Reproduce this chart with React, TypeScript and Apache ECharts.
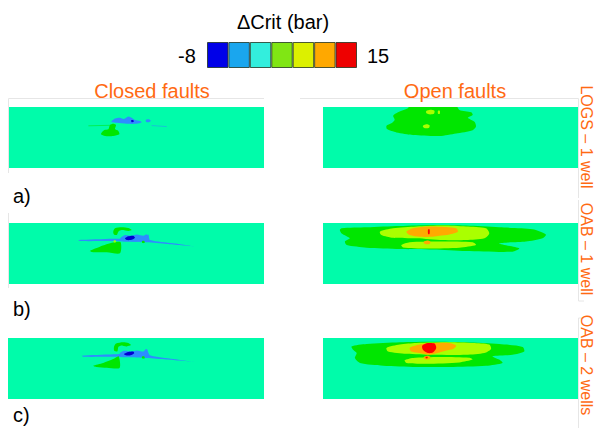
import React, { useEffect, useRef } from "react";
import * as echarts from "echarts";

// ---------- data ----------
const colorbarTitle = "ΔCrit (bar)";
const colorbarMin = -8;
const colorbarMax = 15;
const colorbarBins = ["-8", "-4.7", "-1.4", "1.9", "5.1", "8.4", "11.7"];
const columnTitles = ["Closed faults", "Open faults"];
const rowLabels = ["a)", "b)", "c)"];
const scenarioLabels = ["LOGS – 1 well", "OAB – 1 well", "OAB – 2 wells"];

type Zone = { level: number; pts: number[][]; line?: boolean };
// level: 0 = strong decrease, 1 = decrease, 3 = slight increase, 4 = increase, 5 = large, 6 = largest
const closedLogs: Zone[] = [
  { level: 3, pts: [[36.6, 10.0], [37.5, 9.1], [39.2, 8.8], [39.8, 7.1], [41.1, 6.6], [42.2, 7.1], [41.8, 8.7], [43.1, 9.4], [43.5, 10.7], [41.1, 11.4], [37.9, 11.4], [36.3, 10.7]] },
  { level: 1, pts: [[40.5, 5.5], [41.8, 4.5], [43.75, 4.2], [45.3, 4.7], [47.0, 3.7], [48.3, 4.2], [49.6, 5.1], [51.6, 5.5], [52.2, 6.0], [50.3, 6.6], [46.4, 6.6], [42.5, 6.2], [40.5, 6.0]] },
  { level: 1, pts: [[53.9, 5.0], [55.0, 4.8], [55.8, 5.4], [55.0, 6.0], [53.9, 5.8]] },
  { level: 0, pts: [[48.1, 5.2], [48.9, 5.1], [49.1, 5.8], [48.3, 6.0]] },
  { level: 3, line: true, pts: [[31.4, 7.4], [39.8, 7.2]] },
  { level: 1, line: true, pts: [[56.1, 7.3], [62.0, 7.7]] },
];
const openLogs: Zone[] = [
  { level: 3, pts: [[34, -0.5], [52.2, -0.5], [53.5, 1.2], [58.1, 2.1], [58.7, 3.1], [56.8, 4.2], [59.4, 5.8], [60, 7.7], [58.7, 9.1], [52.2, 10.4], [45.7, 11.4], [35.3, 11], [28.8, 10], [25.1, 8.7], [24.9, 7.4], [26.8, 6.4], [28.1, 5.1], [27.5, 3.4], [29.4, 2.1], [33.3, 0.5]] },
  { level: 4, pts: [[40.5, 1.6], [42, 1.1], [43.7, 1.5], [43.5, 2.7], [41.5, 2.9], [40.5, 2.4]] },
  { level: 4, pts: [[39.2, 7.4], [40.5, 6.8], [41.8, 7.2], [41.6, 8.2], [40.2, 8.4], [39.3, 8.0]] },
  { level: 4, pts: [[45.1, 1.5], [45.8, 1.5], [45.8, 2.7], [45.1, 2.7]] },
];
const closedOab1: Zone[] = [
  { level: 1, pts: [[27.5, 6.7], [41.1, 6.2], [52.9, 5.8], [54.8, 4.5], [55.5, 6.7], [64.6, 8.0], [72.4, 9.2], [62, 8.3], [54.2, 7.6], [46.4, 7.3], [41.1, 7.1], [28.1, 7.1]] },
  { level: 1, pts: [[44, 5.8], [45.7, 4.7], [48.3, 5.0], [50.3, 4.5], [52.9, 5.0], [54.2, 4.5], [54.8, 6.7], [51.6, 7.3], [46.4, 7.3], [43.75, 7.0]] },
  { level: 0, pts: [[45.7, 6.0], [47, 5.2], [48.9, 5.0], [49.6, 5.8], [48.3, 6.6], [46.4, 6.7]] },
  { level: 3, pts: [[41.1, 3.4], [41.8, 2.1], [44.4, 1.7], [47, 2.0], [48.3, 2.8], [47, 3.1], [44.4, 2.8], [43.1, 3.4], [42.5, 4.7], [41.4, 4.5]] },
  { level: 3, pts: [[32, 11.0], [35.9, 9.3], [41.1, 7.7], [44, 7.6], [43.75, 11.9], [38.6, 11.5], [33.3, 11.5]] },
  { level: 3, pts: [[52.3, 7.2], [53.2, 7.0], [53.4, 7.8], [52.5, 7.9]] },
  { level: 4, pts: [[41.3, 6.9], [42.1, 6.9], [42.1, 7.6], [41.3, 7.6]] },
];
const openOab1: Zone[] = [
  { level: 3, pts: [[6.6, 2.8], [7.3, 2.1], [17.1, 1.7], [30.1, 1.2], [43.1, 0.8], [56.1, 1.0], [69.1, 1.7], [82.2, 2.5], [87.4, 4.5], [86.1, 6.0], [79.6, 7.3], [69.1, 8.0], [77, 10], [74.3, 11.3], [56.1, 11], [43.1, 10.4], [30.1, 10.2], [17.1, 9.7], [9.3, 8.7], [8.6, 7.3], [10.5, 6.0], [7.3, 4.1]] },
  { level: 4, pts: [[22.3, 3.4], [27.5, 2.1], [36.6, 1.4], [47, 1.0], [56.1, 1.4], [63.9, 2.1], [65.2, 4.1], [63.3, 6.0], [56.1, 6.7], [47, 6.7], [36.6, 6.0], [27.5, 5.8], [22.9, 4.7]] },
  { level: 4, pts: [[30.7, 8.7], [34, 7.6], [45.7, 7.3], [58.7, 7.6], [60, 8.7], [53.5, 9.7], [40.5, 10], [31.4, 9.6]] },
  { level: 5, pts: [[32.7, 3.4], [35.3, 2.1], [40.5, 1.4], [48.3, 1.6], [52.2, 2.1], [52.9, 3.4], [49.6, 4.5], [45.7, 5.0], [43.1, 5.4], [37.9, 5.4], [34, 4.7]] },
  { level: 5, pts: [[39.5, 7.4], [40.8, 6.9], [42.1, 7.3], [41.9, 8.2], [40.6, 8.4], [39.6, 8.0]] },
  { level: 6, pts: [[41.2, 2.5], [41.8, 2.5], [41.8, 4.3], [41.2, 4.3]] },
];
const closedOab2: Zone[] = [
  { level: 1, pts: [[28.8, 7.0], [41.1, 6.4], [52.9, 5.9], [54.2, 4.3], [55.5, 6.8], [64.6, 8.3], [72.4, 9.4], [62, 8.5], [54.2, 7.9], [46.4, 7.6], [41.1, 7.4], [29.4, 7.4]] },
  { level: 1, pts: [[43.75, 5.9], [45.3, 5.0], [48.3, 5.3], [50.3, 4.9], [52.9, 5.3], [53.9, 4.3], [54.8, 6.8], [51.6, 7.4], [46.4, 7.4], [43.5, 7.2]] },
  { level: 0, pts: [[45.3, 6.3], [47, 5.5], [48.9, 5.3], [49.3, 6.0], [47.9, 6.8], [46.0, 6.8]] },
  { level: 3, pts: [[41.4, 3.5], [42.2, 2.2], [45.0, 1.7], [47, 2.0], [48.0, 2.8], [46.4, 3.3], [44.0, 3.0], [43.1, 3.5], [42.7, 5.3], [41.5, 5.0]] },
  { level: 3, pts: [[33.3, 10.9], [37.2, 9.8], [41.1, 8.3], [43.2, 7.2], [43.6, 11.8], [38.6, 11.7], [34.6, 11.4]] },
  { level: 3, pts: [[52.3, 7.4], [53.2, 7.2], [53.4, 8.0], [52.5, 8.1]] },
];
const openOab2: Zone[] = [
  { level: 3, pts: [[11.2, 3.3], [17.1, 2.4], [30.1, 1.7], [43.1, 1.5], [56.1, 1.7], [69.1, 2.4], [78.3, 3.5], [78.9, 5.3], [74.3, 6.6], [66.5, 7.2], [69.1, 8.5], [70.4, 9.8], [63.9, 10.9], [49.6, 11.4], [36.6, 11.4], [23.6, 10.9], [14.5, 9.8], [12.5, 7.9], [13.2, 5.9], [11.8, 4.6]] },
  { level: 4, pts: [[24.9, 3.9], [30.1, 2.6], [36.6, 2.0], [49.6, 1.7], [58.7, 2.0], [65.2, 2.6], [65.9, 4.3], [63.3, 5.9], [56.1, 6.6], [43.1, 6.6], [32.7, 6.2], [25.5, 5.3]] },
  { level: 4, pts: [[32, 8.8], [35.3, 7.9], [45.7, 7.5], [57.4, 7.8], [58.7, 8.5], [53.5, 9.6], [40.5, 10.1], [32.7, 9.8]] },
  { level: 5, pts: [[34, 3.9], [37.9, 2.6], [43.1, 2.0], [49.6, 2.0], [52.2, 3.0], [51, 4.3], [48.3, 4.9], [45.7, 5.7], [41.8, 6.6], [37.9, 5.9], [34.6, 5.3]] },
  { level: 6, pts: [[38.9, 3.0], [41.1, 2.0], [43.75, 2.2], [44.4, 3.9], [43.1, 5.7], [41.1, 5.9], [39.2, 4.6]] },
  { level: 5, pts: [[39.5, 7.5], [40.8, 7.0], [42.1, 7.4], [41.9, 8.3], [40.6, 8.5], [39.6, 8.1]] },
  { level: 6, pts: [[40.3, 7.4], [41.0, 7.4], [41.0, 8.0], [40.3, 8.0]] },
];

const panels = [closedLogs, openLogs, closedOab1, openOab1, closedOab2, openOab2];

// ---------- styles ----------
const levelColors = ["#0000d0", "#2e8cff", "#00fcaa", "#00e600", "#aaff00", "#ffaa00", "#ff0000"];
const barColors = ["#0000e8", "#1aa6ee", "#33eedd", "#80e614", "#dcf000", "#ffa800", "#ee0000"];
const FONT = '"Liberation Sans", Arial, Helvetica, sans-serif';
const ORANGE = "#ff6a13";

export default function App() {
  const ref = useRef<HTMLDivElement>(null);
  useEffect(() => {
    document.body.style.margin = "0";
    const chart = echarts.init(ref.current!, null, { renderer: "svg" });
    const colX = [8, 323];
    const colW = [256, 255];
    const rowY = [107, 223, 338];
    const grids: any[] = [];
    const xAxes: any[] = [];
    const yAxes: any[] = [];
    const series: any[] = [];
    panels.forEach((zones, i) => {
      const r = Math.floor(i / 2);
      const c = i % 2;
      grids.push({
        left: colX[c], top: rowY[r], width: colW[c], height: 61,
        show: true, backgroundColor: levelColors[2], borderWidth: 0,
      });
      xAxes.push({ gridIndex: i, type: "value", min: 0, max: 100, show: false });
      yAxes.push({ gridIndex: i, type: "value", min: 0, max: 24, inverse: true, show: false });
      series.push({
        type: "custom",
        xAxisIndex: i,
        yAxisIndex: i,
        clip: true,
        silent: true,
        data: zones.map((z) => z.pts[0]),
        renderItem: (params: any, api: any) => {
          const z = zones[params.dataIndex];
          const pts = z.pts.map((p) => api.coord(p));
          if (z.line) {
            return { type: "polyline", shape: { points: pts }, style: { stroke: levelColors[z.level], lineWidth: 1, opacity: 0.5, fill: null } };
          }
          return { type: "polygon", shape: { points: pts, smooth: 0.25 }, style: { fill: levelColors[z.level] } };
        },
      });
    });
    // colorbar
    grids.push({ left: 207, top: 42, width: 150, height: 26 });
    xAxes.push({ gridIndex: 6, type: "category", data: colorbarBins, show: false });
    yAxes.push({ gridIndex: 6, type: "value", min: 0, max: 1, show: false });
    series.push({
      type: "bar",
      xAxisIndex: 6,
      yAxisIndex: 6,
      barWidth: "100%",
      silent: true,
      data: colorbarBins.map((b, i) => ({
        value: 1,
        itemStyle: { color: barColors[i], borderColor: "rgba(20,40,20,0.75)", borderWidth: 1 },
      })),
    });

    const txt = (text: string, x: number, y: number, size: number, fill: string, align = "center", rotation = 0) => ({
      type: "text",
      x, y, rotation,
      silent: true,
      style: {
        text, fill, font: `${size}px ${FONT}`,
        align, verticalAlign: "middle", textAlign: align, textVerticalAlign: "middle",
      },
    });
    const faint = (points: number[][]) => ({
      type: "polyline", silent: true, shape: { points },
      style: { stroke: "#e6e6e6", lineWidth: 1, fill: null },
    });

    const graphic: any[] = [
      faint([[8.5, 173], [8.5, 98.5], [264, 98.5]]),
      faint([[300, 98.5], [578.5, 98.5], [578.5, 198]]),
      faint([[8.5, 288], [8.5, 213]]),
      faint([[578.5, 200], [578.5, 301], [584, 301]]),
      faint([[578.5, 318], [578.5, 428]]),
      faint([[584, 318], [578.5, 318]]),
      txt(colorbarTitle, 283, 22, 20, "#000"),
      txt(String(colorbarMin), 187, 56, 20, "#000"),
      txt(String(colorbarMax), 378, 56, 20, "#000"),
      txt(columnTitles[0], 152, 91, 20, ORANGE),
      txt(columnTitles[1], 455, 91, 20, ORANGE),
      txt(rowLabels[0], 13, 196, 20, "#000", "left"),
      txt(rowLabels[1], 13, 309, 20, "#000", "left"),
      txt(rowLabels[2], 13, 415, 20, "#000", "left"),
      txt(scenarioLabels[0], 586, 137, 16, ORANGE, "center", -Math.PI / 2),
      txt(scenarioLabels[1], 586, 249, 16, ORANGE, "center", -Math.PI / 2),
      txt(scenarioLabels[2], 586, 365, 16, ORANGE, "center", -Math.PI / 2),
    ];

    chart.setOption({
      animation: false,
      backgroundColor: "#ffffff",
      grid: grids,
      xAxis: xAxes,
      yAxis: yAxes,
      series,
      graphic,
    });
    return () => chart.dispose();
  }, []);
  return <div ref={ref} style={{ width: 596, height: 428 }} />;
}
